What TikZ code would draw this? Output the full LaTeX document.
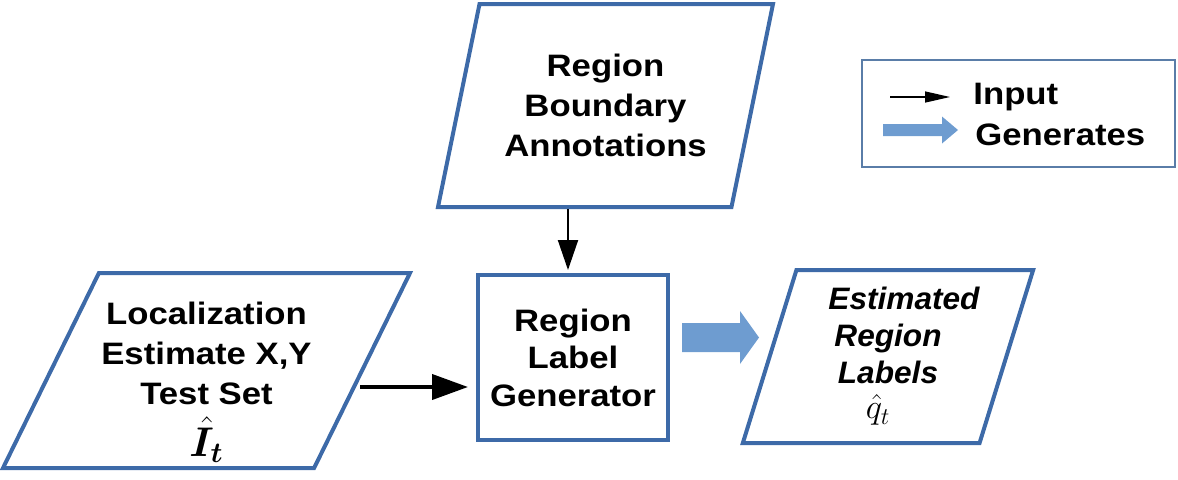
\documentclass[tikz,border=0pt]{standalone}
\usepackage{amsmath}
\usepackage{bm}
\usepackage{fontspec}
\setmainfont{Liberation Sans}[FakeStretch=1.12]
\newfontfamily\estfont{Liberation Sans}[FakeStretch=1.02]
\usetikzlibrary{calc,arrows.meta,positioning,shapes.geometric}

\begin{document}
\begin{tikzpicture}[
    % one unit is one pixel of the sketch
    x=0.5pt, y=0.5pt,
    font=\bfseries\fontsize{15.5}{20}\selectfont,
    databox/.style={trapezium, trapezium stretches body, draw=flowBlue, line width=2pt, inner sep=0pt, align=center},
    procbox/.style={rectangle, draw=flowBlue, line width=2pt, inner sep=0pt, align=center},
    inarrow/.style={-{Triangle[length=18pt,width=12.5pt]}, line width=2pt}
    ]
    
    % Colors
    \definecolor{flowBlue}{HTML}{3D6AA8}
    \definecolor{legendBlue}{HTML}{5A7DA8}
    \definecolor{arrowBlue}{HTML}{6E9CD0}
    
    \useasboundingbox (0,0) rectangle (1178,479);
    
    % Data and process boxes
    \node[databox, trapezium left angle=62.5, trapezium right angle=117.5,
          minimum width=203.5pt, minimum height=97.5pt] (loc) at (206.5,108.5)
          {\rule{0pt}{23pt}Localization\\Estimate X,Y\\Test Set\\[6pt]{\fontsize{21}{20}\selectfont$\bm{\hat{I}}_{\bm{t}}$}};
    \node[databox, trapezium left angle=68, trapezium right angle=112,
          minimum width=167.5pt, minimum height=101.5pt] (ann) at (605.5,373.5)
          {Region\\Boundary\\Annotations};
    \node[procbox, minimum width=95pt, minimum height=82.5pt,
          font=\bfseries\fontsize{15.5}{18.75}\selectfont] (gen) at (573,121.5)
          {Region\\Label\\Generator};
    \node[databox, trapezium left angle=68.8, trapezium right angle=111.2,
          minimum width=145pt, minimum height=86.5pt,
          font=\estfont\bfseries\itshape\fontsize{15.5}{18.5}\selectfont] (est) at (888,122.5)
          {\hspace*{16pt}Estimated\\Region\\Labels\\[-1pt]{\fontsize{17}{18}\selectfont$\hat{q}_t$}\hspace*{10pt}};
    
    % Legend
    \node[draw=legendBlue, line width=1pt, minimum width=156.5pt, minimum height=53.5pt] (legend) at (1018.5,365.5) {};
    \node[anchor=base west, inner sep=0pt] (inTxt) at (973,375) {Input};
    \node[anchor=base west, inner sep=0pt] (genTxt) at (975,334) {Generates};
    \coordinate (keyIn) at (890,382);
    \coordinate (keyGen) at (883,349);
    \draw[-{Triangle[length=12.5pt,width=5.5pt]}, line width=0.7pt] (keyIn) -- ([xshift=-11.5pt]inTxt.west |- keyIn);
    \fill[arrowBlue] (keyGen) ++(0,6) -- ++(59,0) -- ++(0,7.5) -- ++(16,-13.5) -- ++(-16,-13.5) -- ++(0,7.5) -- ++(-59,0) -- cycle;
    
    % Inputs
    \coordinate (locOut) at (360,92);
    \draw[inarrow, shorten >=4pt] (locOut) -- (locOut -| gen.west);
    \draw[-{Triangle[length=15pt,width=10pt]}, line width=1pt, shorten >=1.5pt]
        ($(ann.south -| gen.north)+(-5,0)$) -- ($(gen.north)+(-5,0)$);
    
    % Generates arrow
    \fill[arrowBlue] ($(gen.east)+(12,20)$) ++(0,14.5) -- ++(58,0) -- ++(0,12) -- ++(19,-26.5)
        -- ++(-19,-26.5) -- ++(0,12) -- ++(-58,0) -- cycle;
\end{tikzpicture}
\end{document}
